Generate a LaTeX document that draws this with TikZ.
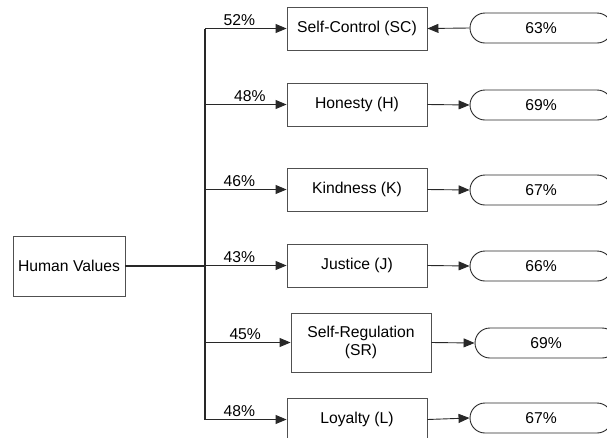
\documentclass[tikz,border=0pt]{standalone}
\usepackage{fontspec}
\setmainfont{Liberation Sans}
\usepackage{xcolor}
\usetikzlibrary{arrows.meta}
\definecolor{lineGray}{RGB}{40,40,40}
\definecolor{boxGray}{RGB}{80,80,80}

\begin{document}
\begin{tikzpicture}[
  x=1pt, y=-1pt,
  font=\fontsize{15.7}{18}\selectfont,
  valbox/.style={draw=boxGray, line width=0.9pt, align=center,
              minimum width=140pt, minimum height=43pt, inner sep=2pt},
  rootbox/.style={draw=boxGray, line width=0.9pt, align=center,
              minimum width=112pt, minimum height=60pt, inner sep=2pt},
  pill/.style={draw=lineGray, line width=0.9pt, rounded corners=15pt,
              minimum width=142pt, minimum height=30pt, inner sep=2pt},
  arrow/.style={-{Triangle[length=11pt, width=9pt]}, line width=0.9pt, draw=lineGray},
  pct/.style={above, inner sep=2pt}
]
\useasboundingbox (0,0) rectangle (607,437);

\node[rootbox] (hv) at (69,266) {Human Values};
\coordinate (split) at (205,266);

\node[valbox] (sc)    at (357,28.5)  {Self-Control (SC)};
\node[valbox] (hon)   at (357,104.5) {Honesty (H)};
\node[valbox] (kind)  at (357,189.5) {Kindness (K)};
\node[valbox] (just)  at (357,265.5) {Justice (J)};
\node[valbox, minimum height=59pt] (sreg) at (361,342.5) {Self-Regulation\\(SR)};
\node[valbox] (loyal) at (357,419.5) {Loyalty (L)};

\node[pill] (psc)    at (541,28)  {63\%};
\node[pill] (phon)   at (541,105) {69\%};
\node[pill] (pkind)  at (541,190) {67\%};
\node[pill] (pjust)  at (541,266) {66\%};
\node[pill] (psreg)  at (546,343) {69\%};
\node[pill] (ployal) at (541,418) {67\%};

\draw[line width=1.8pt, draw=lineGray] (hv.east) -- (split);
\draw[line width=1.3pt, draw=lineGray] (split |- sc.west) -- (split |- loyal.west);

\draw[arrow] (split |- sc.west) -- (sc.west) node[pct, pos=0.42] {52\%};
\draw[arrow] (split |- hon.west) -- (hon.west) node[pct, pos=0.55] {48\%};
\draw[arrow] (split |- kind.west) -- (kind.west) node[pct, pos=0.42] {46\%};
\draw[arrow] (split |- just.west) -- (just.west) node[pct, pos=0.42] {43\%};
\draw[arrow] (split |- sreg.west) -- (sreg.west) node[pct, pos=0.47] {45\%};
\draw[arrow] (split |- loyal.west) -- (loyal.west) node[pct, pos=0.42] {48\%};

\draw[arrow] (psc.west) -- (sc.east);
\draw[arrow] (hon.east) -- (phon.west);
\draw[arrow] (kind.east) -- (pkind.west);
\draw[arrow] (just.east) -- (pjust.west);
\draw[arrow] (sreg.east) -- (psreg.west);
\draw[arrow] (loyal.east) -- (ployal.west);
\end{tikzpicture}
\end{document}
